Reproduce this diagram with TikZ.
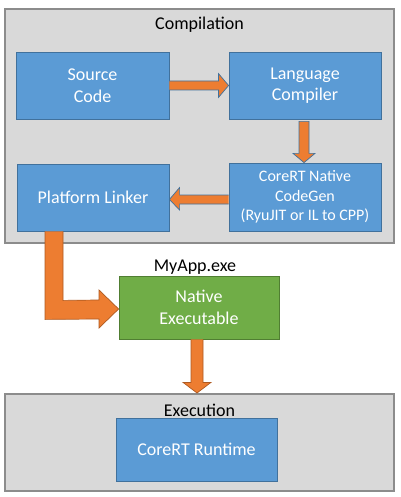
\documentclass[tikz,border=0pt]{standalone}
\usepackage{fontspec}
\setmainfont{Carlito}
\usetikzlibrary{calc}
\definecolor{boxblue}{HTML}{5B9BD5}
\definecolor{boxblueline}{HTML}{41719C}
\definecolor{boxgreen}{HTML}{70AD47}
\definecolor{boxgreenline}{HTML}{507E32}
\definecolor{arrorange}{HTML}{ED7D31}
\definecolor{arrorangeline}{HTML}{AE5A21}
\definecolor{panelgray}{HTML}{D9D9D9}
\definecolor{panelline}{HTML}{8C8C8C}
\tikzset{
  panel/.style={fill=panelgray, draw=panelline, line width=1.2pt},
  bluebox/.style={fill=boxblue, draw=boxblueline, line width=0.8pt, text=white, align=center, inner sep=0pt, font=\fontsize{18}{21.5}\selectfont},
  greenbox/.style={fill=boxgreen, draw=boxgreenline, line width=0.8pt, text=white, align=center, inner sep=0pt, font=\fontsize{18}{21.5}\selectfont},
  fatarrow/.style={fill=arrorange, draw=boxblueline, line width=0.7pt, line join=miter},
  fatarrowo/.style={fill=arrorange, draw=arrorangeline, line width=0.7pt, line join=miter},
  lbl/.style={text=black, inner sep=0pt, font=\fontsize{18}{21.5}\selectfont}
}
\begin{document}
\begin{tikzpicture}[x=1pt, y=-1pt]
\useasboundingbox (0,0) rectangle (400,497);
% panels
\draw[panel] (5,9) rectangle (394,243);
\draw[panel] (5,394) rectangle (394,491);
\node[lbl] (comp) at (199.5,25) {Compilation};
\node[lbl] (exec) at (199.5,410) {Execution};
% boxes
\node[bluebox, minimum width=153pt, minimum height=67pt] (sc) at (92.5,85.5) {Source\\Code};
\node[bluebox, minimum width=152pt, minimum height=67pt] (lc) at (305,85.5) {Language\\Compiler};
\node[bluebox, minimum width=152pt, minimum height=68pt, font=\fontsize{16}{19.5}\selectfont] (cg) at (305,197) {CoreRT Native\\CodeGen\\(RyuJIT or IL to CPP)};
\node[bluebox, minimum width=152pt, minimum height=67pt] (pl) at (93,197.5) {Platform Linker};
\node[greenbox, minimum width=160pt, minimum height=63pt] (ne) at (199,307.5) {Native\\Executable};
\node[lbl, anchor=south] (myapp) at ($(ne.north)+(-4,-1)$) {MyApp.exe};
\node[bluebox, minimum width=161pt, minimum height=63pt] (rt) at (196.5,449.5) {CoreRT Runtime};
% arrow source -> language compiler
\draw[fatarrow] ($(sc.east)+(0,-4.5)$) -- ($(sc.east)+(49,-4.5)$) -- ($(sc.east)+(49,-12)$)
  -- ($(lc.west)+(0,0)$) -- ($(sc.east)+(49,12)$) -- ($(sc.east)+(49,4.5)$) -- ($(sc.east)+(0,4.5)$);
% arrow language compiler -> codegen
\draw[fatarrow] ($(lc.south)+(-6,2)$) -- ($(lc.south)+(-6,34)$) -- ($(lc.south)+(-12,34)$)
  -- ($(cg.north)+(-1,0)$) -- ($(lc.south)+(10,34)$) -- ($(lc.south)+(4,34)$) -- ($(lc.south)+(4,2)$) -- cycle;
% arrow codegen -> platform linker
\draw[fatarrow] ($(cg.west)+(0,-2)$) -- ($(cg.west)+(-49,-2)$) -- ($(cg.west)+(-49,-9.5)$)
  -- ($(pl.east)+(0,2)$) -- ($(cg.west)+(-49,13)$) -- ($(cg.west)+(-49,7)$) -- ($(cg.west)+(0,7)$);
% bent arrow platform linker -> native executable
\draw[fatarrowo] ($(pl.south)+(-48,0)$) -- ($(pl.south)+(-48,88)$) -- (99,319) -- (99,328)
  -- ($(ne.west)+(0,1.5)$) -- (99,290) -- (99,300) -- ($(pl.south)+(-30,69)$) -- ($(pl.south)+(-30,0)$);
% arrow native executable -> execution
\draw[fatarrowo] ($(ne.south)+(-8,0)$) -- ($(ne.south)+(-8,43)$) -- ($(ne.south)+(-16,43)$)
  -- (197,393) -- ($(ne.south)+(12,43)$) -- ($(ne.south)+(4,43)$) -- ($(ne.south)+(4,0)$);
\end{tikzpicture}
\end{document}
